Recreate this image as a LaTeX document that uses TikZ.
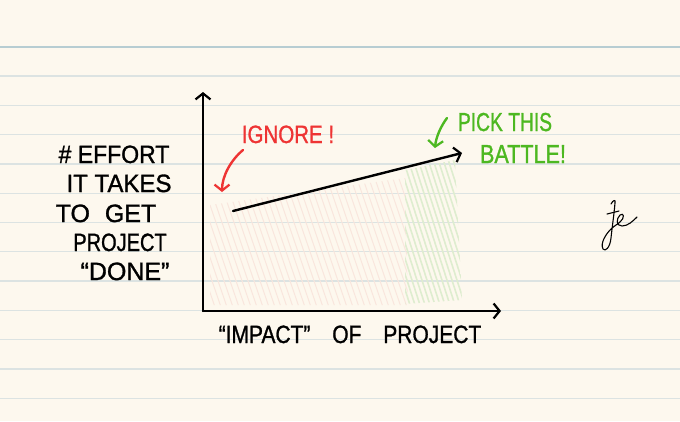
\documentclass[tikz,border=0pt]{standalone}
\usepackage{fontspec}
\setmainfont{Liberation Sans}[RawFeature={embolden=1.2}]
\usetikzlibrary{arrows.meta}
\definecolor{paper}{HTML}{FDF8EE}
\definecolor{rule}{HTML}{DCE3E2}
\definecolor{toprule}{HTML}{B7CDD2}
\definecolor{inkred}{HTML}{EE3434}
\definecolor{inkgreen}{HTML}{4DB821}
\definecolor{hatchred}{HTML}{F9E6DD}
\definecolor{hatchgreen}{HTML}{DEEDCF}
\tikzset{
  ink/.style={line width=2.4pt, line cap=round, line join=round},
  barb/.style={-{Straight Barb[length=6pt,width=15pt,line width=2.2pt]}},
  hw/.style={inner sep=0pt, anchor=base},
  ruleline/.style={rule, line width=1.3pt},
}
\begin{document}
\begin{tikzpicture}[x=1pt,y=-1pt]
\useasboundingbox (0,0) rectangle (680,421);
\fill[paper] (0,0) rectangle (680,421);
% ruled lines
\draw[toprule, line width=2pt] (0,46.7) -- (680,46.7);
\foreach \k in {1,...,12} \draw[ruleline] (0,46.7+29.3*\k) -- (680,46.7+29.3*\k);
% hatching
\begin{scope}
  \clip (210,205) -- (405,178) -- (408,305) -- (210,305) -- cycle;
  \foreach \i in {0,...,42} \draw[hatchred, line width=1pt] (150+\i*6,170) -- ++(48,140);
\end{scope}
\begin{scope}
  \clip (405,170) -- (455,160) -- (462,300) -- (405,304) -- cycle;
  \foreach \i in {0,...,22} \draw[hatchgreen, line width=1.6pt] (350+\i*5,150) -- ++(50,155);
\end{scope}
% axes
\coordinate (O) at (203,311);
\coordinate (ytop) at (203,92);
\coordinate (xend) at (501,311);
\draw[ink, barb] (O) -- (ytop);
\draw[ink, barb] (O) -- (xend);
% main arrow
\coordinate (s) at (233,211);
\coordinate (e) at (462,153);
\draw[ink, barb] (s) -- (e);
% y label
\node[hw, font=\fontsize{25}{25}\selectfont] (y1) at (114,163) {\scalebox{0.92}[1]{\# EFFORT}};
\node[hw, font=\fontsize{25}{25}\selectfont] (y2) at (119,192) {\scalebox{0.96}[1]{IT TAKES}};
\node[hw, font=\fontsize{25}{25}\selectfont] (y3) at (106,222) {TO\hspace{8pt} GET};
\node[hw, font=\fontsize{25}{25}\selectfont] (y4) at (120,251) {\scalebox{0.8}[1]{PROJECT}};
\node[hw, font=\fontsize{25}{25}\selectfont] (y5) at (125,280) {“DONE”};
% x label
\node[hw, font=\fontsize{25}{25}\selectfont] (xl) at (350,343) {\scalebox{0.84}[1]{“IMPACT”\hspace{26pt}OF\hspace{26pt}PROJECT}};
% ignore
\node[hw, text=inkred, font=\fontsize{25}{25}\selectfont] (ign) at (288,143) {\scalebox{0.82}[1]{IGNORE !}};
\coordinate (r1) at (243,150);
\coordinate (r2) at (222,192);
\draw[ink, inkred, barb] (r1) .. controls (231,160) and (222,176) .. (r2);
% pick this battle
\node[hw, text=inkgreen, font=\fontsize{26}{26}\selectfont] (g1) at (505,131) {\scalebox{0.74}[1]{PICK THIS}};
\node[hw, text=inkgreen, font=\fontsize{26}{26}\selectfont] (g2) at (523,163) {\scalebox{0.83}[1]{BATTLE!}};
\coordinate (g3) at (447,118);
\coordinate (g4) at (435,148);
\draw[ink, inkgreen, barb] (g3) .. controls (441,126) and (436,137) .. (g4);
% signature
\draw[line width=1.1pt, line cap=round, line join=round]
  (611,204) .. controls (613,200) and (616,199) .. (615,203)
  .. controls (614,215) and (612,228) .. (611,238)
  .. controls (610,248) and (605,252) .. (603,249)
  .. controls (600,243) and (606,234) .. (611,229)
  .. controls (614,226) and (618,224) .. (620,222)
  .. controls (625,218) and (624,212) .. (620,215)
  .. controls (616,219) and (616,226) .. (622,226)
  .. controls (628,226) and (633,221) .. (637,217);
\draw[line width=1.1pt, line cap=round] (607,214) -- (619,211);
\end{tikzpicture}
\end{document}
